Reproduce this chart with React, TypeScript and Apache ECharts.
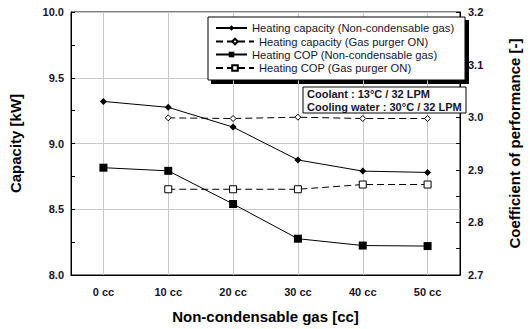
import React, { useEffect, useRef } from "react";
import * as echarts from "echarts";

const categories = ["0 cc", "10 cc", "20 cc", "30 cc", "40 cc", "50 cc"];
const capacityNC = [9.32, 9.275, 9.125, 8.875, 8.79, 8.78];
const capacityPurger: (number | string)[] = ["-", 9.195, 9.19, 9.2, 9.19, 9.19];
const copNC = [2.904, 2.898, 2.835, 2.769, 2.756, 2.755];
const copPurger: (number | string)[] = ["-", 2.863, 2.863, 2.863, 2.872, 2.872];
const seriesNames = [
  "Heating capacity (Non-condensable gas)",
  "Heating capacity (Gas purger ON)",
  "Heating COP (Non-condensable gas)",
  "Heating COP (Gas purger ON)",
];
const noteLines = ["Coolant : 13°C / 32 LPM", "Cooling water : 30°C / 32 LPM"];

const TXT = "#15152a";
const FONT = "Liberation Sans, Arial, sans-serif";

export default function App() {
  const ref = useRef<HTMLDivElement>(null);
  useEffect(() => {
    if (!ref.current) return;
    const chart = echarts.init(ref.current, null, { renderer: "svg" });
    const lineBase = { color: "#000", width: 1 };
    const legendCommon = {
      orient: "vertical",
      itemHeight: 7,
      itemGap: 14.5,
      textStyle: { fontSize: 11.2, color: TXT, fontFamily: FONT, lineHeight: 12 },
      inactiveColor: "#000",
      selectedMode: false,
      padding: 0,
    };
    chart.setOption({
      animation: false,
      textStyle: { fontFamily: FONT },
      grid: {
        left: 70,
        right: 57,
        top: 12,
        bottom: 53,
        show: true,
        borderColor: "#000",
        borderWidth: 1,
        backgroundColor: "transparent",
      },
      legend: [
        { ...legendCommon, left: 215, top: 22, itemWidth: 31, data: [seriesNames[0], seriesNames[2]] },
        { ...legendCommon, left: 215, top: 35.5, itemWidth: 38, data: [seriesNames[1], seriesNames[3]] },
      ],
      graphic: [
        { type: "rect", shape: { x: 211, y: 20, width: 258, height: 64 }, style: { fill: "#000" }, z: 1 },
        { type: "rect", shape: { x: 208, y: 17, width: 257, height: 63 }, style: { fill: "#fff", stroke: "#000", lineWidth: 1 }, z: 2 },
        { type: "rect", shape: { x: 303, y: 87, width: 163, height: 26 }, style: { fill: "#fff", stroke: "#000", lineWidth: 1 }, z: 2 },
        {
          type: "text",
          x: 307,
          y: 94,
          z: 3,
          style: { text: noteLines[0], font: `bold 11px ${FONT}`, fill: TXT, verticalAlign: "middle" },
        },
        {
          type: "text",
          x: 307,
          y: 107,
          z: 3,
          style: { text: noteLines[1], font: `bold 11px ${FONT}`, fill: TXT, verticalAlign: "middle" },
        },
      ],
      xAxis: {
        type: "category",
        data: categories,
        boundaryGap: true,
        name: "Non-condensable gas [cc]",
        nameLocation: "middle",
        nameGap: 34,
        nameTextStyle: { fontSize: 15, fontWeight: "bold", color: "#000" },
        axisLine: { lineStyle: { color: "#000", width: 1 } },
        axisTick: { show: true, inside: true, alignWithLabel: true, length: 4, lineStyle: { color: "#000" } },
        axisLabel: { fontSize: 11, fontWeight: "bold", color: TXT, margin: 11 },
        splitLine: { show: false },
      },
      yAxis: [
        {
          type: "value",
          min: 8,
          max: 10,
          interval: 0.5,
          name: "Capacity [kW]",
          nameLocation: "middle",
          nameRotate: 90,
          nameGap: 48,
          nameTextStyle: { fontSize: 15, fontWeight: "bold", color: "#000" },
          axisLine: { show: true, lineStyle: { color: "#000" } },
          axisTick: { show: true, inside: true, length: 4, lineStyle: { color: "#000" } },
          minorTick: { show: true, splitNumber: 2, length: 4, lineStyle: { color: "#000" } },
          axisLabel: { fontSize: 11, fontWeight: "bold", color: TXT, formatter: (v: number) => v.toFixed(1), margin: 7 },
          splitLine: { show: true, lineStyle: { color: "#c8c8c8", width: 1 } },
        },
        {
          type: "value",
          min: 2.7,
          max: 3.2,
          interval: 0.1,
          name: "Coefficient of performance [-]",
          nameLocation: "middle",
          nameRotate: 90,
          nameGap: 47,
          nameTextStyle: { fontSize: 15, fontWeight: "bold", color: "#000" },
          axisLine: { show: true, lineStyle: { color: "#000" } },
          axisTick: { show: true, inside: true, length: 4, lineStyle: { color: "#000" } },
          minorTick: { show: true, splitNumber: 2, length: 4, lineStyle: { color: "#000" } },
          axisLabel: { fontSize: 11, fontWeight: "bold", color: TXT, formatter: (v: number) => v.toFixed(1), margin: 8 },
          splitLine: { show: false },
        },
      ],
      series: [
        {
          name: seriesNames[0],
          type: "line",
          yAxisIndex: 0,
          data: capacityNC,
          symbol: "diamond",
          symbolSize: 7,
          itemStyle: { color: "#000" },
          lineStyle: { ...lineBase },
          z: 5,
          markLine: {
            silent: true,
            symbol: "none",
            label: { show: false },
            lineStyle: { color: "#c8c8c8", type: "solid", width: 1 },
            data: categories.map((c) => ({ xAxis: c })),
            z: 1,
          },
        },
        {
          name: seriesNames[1],
          type: "line",
          yAxisIndex: 0,
          data: capacityPurger,
          symbol: "diamond",
          symbolSize: 6,
          itemStyle: { color: "#fff", borderColor: "#000", borderWidth: 1 },
          lineStyle: { ...lineBase, type: [7, 4] },
          z: 5,
        },
        {
          name: seriesNames[2],
          type: "line",
          yAxisIndex: 1,
          data: copNC,
          symbol: "rect",
          symbolSize: 8,
          itemStyle: { color: "#000" },
          lineStyle: { ...lineBase },
          z: 5,
        },
        {
          name: seriesNames[3],
          type: "line",
          yAxisIndex: 1,
          data: copPurger,
          symbol: "rect",
          symbolSize: 7,
          itemStyle: { color: "#fff", borderColor: "#000", borderWidth: 1 },
          lineStyle: { ...lineBase, type: [7, 4] },
          z: 5,
        },
      ],
    });
    return () => chart.dispose();
  }, []);
  return <div ref={ref} style={{ width: 530, height: 329, position: "absolute", left: 0, top: 0 }} />;
}
